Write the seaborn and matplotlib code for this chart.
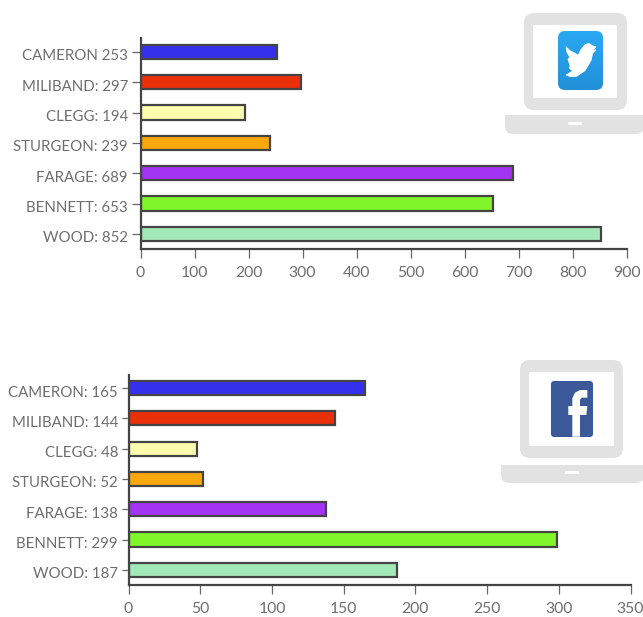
import numpy as np
import pandas as pd
import matplotlib
matplotlib.use('Agg')
import matplotlib.pyplot as plt
import seaborn as sns
from matplotlib.patches import FancyBboxPatch, Polygon, Rectangle
from matplotlib.transforms import ScaledTranslation

W, H = 643, 617

names = ['CAMERON', 'MILIBAND', 'CLEGG', 'STURGEON', 'FARAGE', 'BENNETT', 'WOOD']
colors = ['#3530ec', '#e9300b', '#fdfdb0', '#f7a80c', '#a334f4', '#7ff52a', '#a3e9b8']
twitter_vals = [253, 297, 194, 239, 689, 653, 852]
facebook_vals = [165, 144, 48, 52, 138, 299, 187]
twitter_labels = ['CAMERON 253', 'MILIBAND: 297', 'CLEGG: 194', 'STURGEON: 239',
                  'FARAGE: 689', 'BENNETT: 653', 'WOOD: 852']
facebook_labels = ['CAMERON: 165', 'MILIBAND: 144', 'CLEGG: 48', 'STURGEON: 52',
                   'FARAGE: 138', 'BENNETT: 299', 'WOOD: 187']
twitter_ticks = [0, 100, 200, 300, 400, 500, 600, 700, 800, 900]
facebook_ticks = [0, 50, 100, 150, 200, 250, 300, 350]

sns.set_style('white')
plt.rcParams['font.family'] = ['Lato', 'DejaVu Sans']

fig = plt.figure(figsize=(W / 100, H / 100), dpi=100)


def bar_panel(left, right, top, bottom, labels, vals, ticks, ylim, ticklen):
    ax = fig.add_axes([left / W, 1 - bottom / H, (right - left) / W, (bottom - top) / H])
    df = pd.DataFrame({'label': labels, 'value': vals})
    sns.barplot(data=df, x='value', y='label', hue='label', palette=colors, legend=False,
                width=0.47, edgecolor='#444444', linewidth=1.6, saturation=1, ax=ax)
    ax.set_xlim(ticks[0], ticks[-1])
    ax.set_ylim(*ylim)
    ax.set_xticks(ticks)
    ax.set_xlabel('')
    ax.set_ylabel('')
    sns.despine(ax=ax)
    for s in ['left', 'bottom']:
        ax.spines[s].set_linewidth(1.6)
        ax.spines[s].set_color('#444444')
    ax.tick_params(axis='y', length=ticklen, width=0.9, color='#666666', labelcolor='#6e6e6e',
                   labelsize=10.8, pad=2.5, left=True)
    ax.tick_params(axis='x', length=6.5, width=0.9, color='#666666', labelcolor='#6e6e6e',
                   labelsize=11.3, pad=5.5, bottom=True)
    # labels sit a little under their ticks in the original
    shift = ScaledTranslation(0, -3 / 100, fig.dpi_scale_trans)
    for t in ax.get_yticklabels():
        t.set_transform(t.get_transform() + shift)
    return ax


bar_panel(140.5, 626.5, 38, 249, twitter_labels, twitter_vals, twitter_ticks, (6.5, -0.46), 6.5)
bar_panel(128.5, 630.5, 375, 585, facebook_labels, facebook_vals, facebook_ticks, (6.5, -0.43), 5)

# laptop icons, in pixel coordinates
ov = fig.add_axes([0, 0, 1, 1], zorder=5)
ov.set_xlim(0, W)
ov.set_ylim(H, 0)
ov.axis('off')
ov.patch.set_alpha(0)


def rbox(x0, y0, x1, y1, r, color, z=1):
    p = FancyBboxPatch((x0 + r, y0 + r), x1 - x0 - 2 * r, y1 - y0 - 2 * r,
                       boxstyle='round,pad=%s,rounding_size=%s' % (r, r),
                       fc=color, ec='none', zorder=z)
    ov.add_patch(p)
    return p


def laptop(outer, inner, base, slot):
    rbox(*outer, 10, '#e2e2e2')
    rbox(*inner, 1.5, 'white', 2)
    rbox(base[0], base[1], base[2], base[3], 8, '#e2e2e2')
    ov.add_patch(Rectangle((base[0], base[1]), base[2] - base[0], 8, fc='#e2e2e2', ec='none', zorder=1))
    rbox(*slot, 1, 'white', 2)


laptop((524, 13, 627, 110), (533, 25, 617, 98), (505, 115, 644, 134), (568, 122, 582, 125))
laptop((520, 360, 623, 458), (529, 372, 614, 446), (501, 465, 644, 483), (565, 471, 579, 474))

# twitter badge, gradient clipped to rounded box
clip = rbox(558, 31, 603, 90, 7, 'none', 3)
grad = np.linspace(0, 1, 64).reshape(-1, 1)
cmap = matplotlib.colors.LinearSegmentedColormap.from_list('tw', ['#2aa9f2', '#2190d8'])
im = ov.imshow(grad, extent=(558, 603, 90, 31), cmap=cmap, aspect='auto', zorder=3)
im.set_clip_path(clip)
ov.set_xlim(0, W)
ov.set_ylim(H, 0)

bird = [(228, 140), (240, 152), (265, 165), (272, 150), (285, 134), (298, 130), (306, 137),
        (318, 140), (310, 150), (318, 150), (308, 160), (303, 182), (285, 212), (258, 230),
        (240, 230), (228, 225), (248, 213), (238, 205), (240, 197), (234, 178), (239, 172), (230, 155)]
bird = [(490 + x / 3, y / 3) for x, y in bird]
ov.add_patch(Polygon(bird, closed=True, fc='white', ec='white', lw=0.5, zorder=4))

# facebook badge
rbox(551, 381, 593, 437, 3, '#3b5998', 3)
eff = [(247, 260), (270, 260), (270, 195), (289, 195), (292, 168), (270, 168), (270, 150),
       (275, 143), (292, 143), (292, 120), (270, 120), (255, 128), (247, 145), (247, 168),
       (235, 168), (235, 195), (247, 195)]
eff = [(490 + x / 3, 350 + y / 3) for x, y in eff]
ov.add_patch(Polygon(eff, closed=True, fc='white', ec='none', zorder=4))

fig.savefig('out.png', dpi=100)
